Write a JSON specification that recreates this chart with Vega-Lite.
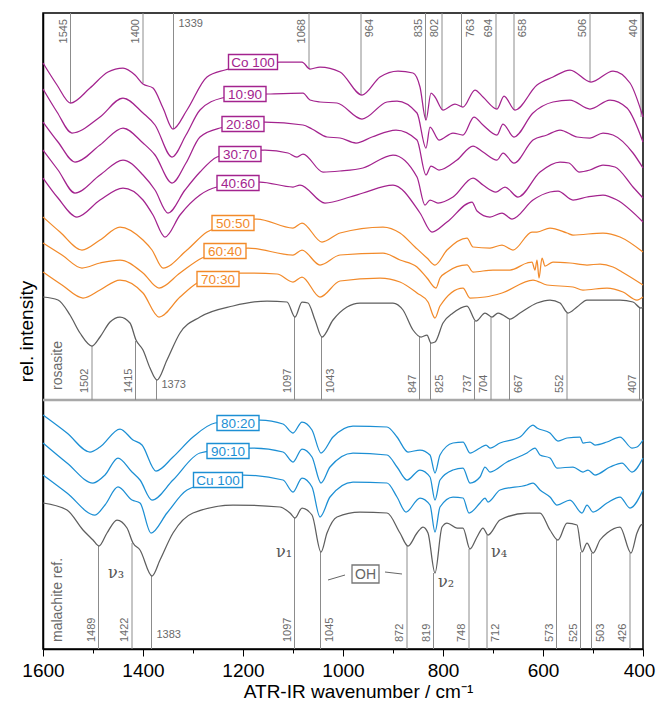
{
"$schema": "https://vega.github.io/schema/vega-lite/v6.json",
"width": 600, "height": 636,
"autosize": {"type": "none"},
"padding": {"left": 43, "top": 13, "right": 14, "bottom": 64},
"background": "white",
"config": {"view": {"stroke": "#000", "strokeWidth": 1.5}, "font": "Liberation Sans"},
"datasets": {
"spectra": [
{"s":"Co 100","w":1600,"y":586},{"s":"Co 100","w":1572,"y":564},{"s":"Co 100","w":1545,"y":546},{"s":"Co 100","w":1506,"y":561},{"s":"Co 100","w":1470,"y":577},{"s":"Co 100","w":1440,"y":581},{"s":"Co 100","w":1416,"y":574},{"s":"Co 100","w":1400,"y":565},{"s":"Co 100","w":1380,"y":561},{"s":"Co 100","w":1360,"y":541},{"s":"Co 100","w":1340,"y":520},{"s":"Co 100","w":1312,"y":539},{"s":"Co 100","w":1272,"y":572},{"s":"Co 100","w":1236,"y":579},{"s":"Co 100","w":1180,"y":584},{"s":"Co 100","w":1126,"y":587},{"s":"Co 100","w":1082,"y":587},{"s":"Co 100","w":1066,"y":580},{"s":"Co 100","w":1046,"y":582},{"s":"Co 100","w":1006,"y":577},{"s":"Co 100","w":962,"y":554},{"s":"Co 100","w":926,"y":572},{"s":"Co 100","w":890,"y":578},{"s":"Co 100","w":860,"y":576},{"s":"Co 100","w":846,"y":562},{"s":"Co 100","w":834,"y":529},{"s":"Co 100","w":824,"y":556},{"s":"Co 100","w":816,"y":552},{"s":"Co 100","w":800,"y":539},{"s":"Co 100","w":776,"y":545},{"s":"Co 100","w":760,"y":542},{"s":"Co 100","w":736,"y":559},{"s":"Co 100","w":720,"y":552},{"s":"Co 100","w":692,"y":540},{"s":"Co 100","w":678,"y":553},{"s":"Co 100","w":656,"y":539},{"s":"Co 100","w":612,"y":564},{"s":"Co 100","w":580,"y":572},{"s":"Co 100","w":546,"y":579},{"s":"Co 100","w":504,"y":567},{"s":"Co 100","w":460,"y":578},{"s":"Co 100","w":426,"y":566},{"s":"Co 100","w":400,"y":532},
{"s":"10:90","w":1600,"y":560},{"s":"10:90","w":1572,"y":537},{"s":"10:90","w":1542,"y":516},{"s":"10:90","w":1486,"y":532},{"s":"10:90","w":1440,"y":551},{"s":"10:90","w":1400,"y":536},{"s":"10:90","w":1376,"y":524},{"s":"10:90","w":1342,"y":492},{"s":"10:90","w":1314,"y":514},{"s":"10:90","w":1286,"y":539},{"s":"10:90","w":1242,"y":551},{"s":"10:90","w":1196,"y":554},{"s":"10:90","w":1150,"y":555},{"s":"10:90","w":1080,"y":556},{"s":"10:90","w":1066,"y":549},{"s":"10:90","w":1046,"y":547},{"s":"10:90","w":1012,"y":546},{"s":"10:90","w":962,"y":530},{"s":"10:90","w":912,"y":547},{"s":"10:90","w":892,"y":548},{"s":"10:90","w":852,"y":536},{"s":"10:90","w":834,"y":501},{"s":"10:90","w":826,"y":522},{"s":"10:90","w":808,"y":509},{"s":"10:90","w":780,"y":516},{"s":"10:90","w":760,"y":514},{"s":"10:90","w":738,"y":532},{"s":"10:90","w":720,"y":524},{"s":"10:90","w":692,"y":514},{"s":"10:90","w":680,"y":525},{"s":"10:90","w":658,"y":512},{"s":"10:90","w":620,"y":536},{"s":"10:90","w":580,"y":547},{"s":"10:90","w":546,"y":549},{"s":"10:90","w":506,"y":540},{"s":"10:90","w":466,"y":549},{"s":"10:90","w":432,"y":541},{"s":"10:90","w":400,"y":507},
{"s":"20:80","w":1600,"y":527},{"s":"20:80","w":1570,"y":507},{"s":"20:80","w":1536,"y":487},{"s":"20:80","w":1486,"y":504},{"s":"20:80","w":1440,"y":521},{"s":"20:80","w":1400,"y":506},{"s":"20:80","w":1376,"y":494},{"s":"20:80","w":1342,"y":466},{"s":"20:80","w":1314,"y":486},{"s":"20:80","w":1286,"y":512},{"s":"20:80","w":1246,"y":521},{"s":"20:80","w":1156,"y":527},{"s":"20:80","w":1080,"y":524},{"s":"20:80","w":1062,"y":520},{"s":"20:80","w":1032,"y":512},{"s":"20:80","w":1006,"y":511},{"s":"20:80","w":974,"y":506},{"s":"20:80","w":942,"y":512},{"s":"20:80","w":894,"y":519},{"s":"20:80","w":852,"y":509},{"s":"20:80","w":834,"y":474},{"s":"20:80","w":824,"y":483},{"s":"20:80","w":808,"y":479},{"s":"20:80","w":772,"y":489},{"s":"20:80","w":740,"y":503},{"s":"20:80","w":720,"y":497},{"s":"20:80","w":692,"y":489},{"s":"20:80","w":680,"y":496},{"s":"20:80","w":658,"y":486},{"s":"20:80","w":620,"y":509},{"s":"20:80","w":592,"y":514},{"s":"20:80","w":566,"y":519},{"s":"20:80","w":532,"y":512},{"s":"20:80","w":506,"y":511},{"s":"20:80","w":480,"y":516},{"s":"20:80","w":460,"y":514},{"s":"20:80","w":420,"y":496},{"s":"20:80","w":400,"y":481},
{"s":"30:70","w":1600,"y":499},{"s":"30:70","w":1570,"y":479},{"s":"30:70","w":1536,"y":456},{"s":"30:70","w":1486,"y":474},{"s":"30:70","w":1440,"y":489},{"s":"30:70","w":1400,"y":474},{"s":"30:70","w":1376,"y":459},{"s":"30:70","w":1350,"y":436},{"s":"30:70","w":1316,"y":459},{"s":"30:70","w":1286,"y":477},{"s":"30:70","w":1252,"y":492},{"s":"30:70","w":1206,"y":497},{"s":"30:70","w":1156,"y":499},{"s":"30:70","w":1110,"y":496},{"s":"30:70","w":1092,"y":492},{"s":"30:70","w":1080,"y":495},{"s":"30:70","w":1040,"y":477},{"s":"30:70","w":1006,"y":478},{"s":"30:70","w":960,"y":481},{"s":"30:70","w":900,"y":494},{"s":"30:70","w":852,"y":472},{"s":"30:70","w":836,"y":444},{"s":"30:70","w":826,"y":449},{"s":"30:70","w":810,"y":446},{"s":"30:70","w":780,"y":452},{"s":"30:70","w":740,"y":471},{"s":"30:70","w":720,"y":464},{"s":"30:70","w":694,"y":457},{"s":"30:70","w":676,"y":462},{"s":"30:70","w":650,"y":452},{"s":"30:70","w":606,"y":477},{"s":"30:70","w":566,"y":487},{"s":"30:70","w":548,"y":486},{"s":"30:70","w":528,"y":477},{"s":"30:70","w":506,"y":479},{"s":"30:70","w":480,"y":484},{"s":"30:70","w":456,"y":482},{"s":"30:70","w":420,"y":462},{"s":"30:70","w":400,"y":451},
{"s":"40:60","w":1600,"y":471},{"s":"40:60","w":1570,"y":451},{"s":"40:60","w":1532,"y":432},{"s":"40:60","w":1486,"y":449},{"s":"40:60","w":1440,"y":461},{"s":"40:60","w":1400,"y":449},{"s":"40:60","w":1380,"y":434},{"s":"40:60","w":1356,"y":412},{"s":"40:60","w":1326,"y":434},{"s":"40:60","w":1286,"y":454},{"s":"40:60","w":1252,"y":462},{"s":"40:60","w":1166,"y":467},{"s":"40:60","w":1100,"y":462},{"s":"40:60","w":1086,"y":464},{"s":"40:60","w":1036,"y":446},{"s":"40:60","w":986,"y":452},{"s":"40:60","w":960,"y":456},{"s":"40:60","w":900,"y":464},{"s":"40:60","w":846,"y":436},{"s":"40:60","w":822,"y":417},{"s":"40:60","w":792,"y":427},{"s":"40:60","w":742,"y":447},{"s":"40:60","w":732,"y":438},{"s":"40:60","w":706,"y":432},{"s":"40:60","w":682,"y":436},{"s":"40:60","w":662,"y":430},{"s":"40:60","w":620,"y":449},{"s":"40:60","w":586,"y":457},{"s":"40:60","w":570,"y":458},{"s":"40:60","w":540,"y":449},{"s":"40:60","w":512,"y":452},{"s":"40:60","w":480,"y":454},{"s":"40:60","w":452,"y":449},{"s":"40:60","w":400,"y":427},
{"s":"50:50","w":1600,"y":432},{"s":"50:50","w":1566,"y":417},{"s":"50:50","w":1522,"y":399},{"s":"50:50","w":1486,"y":409},{"s":"50:50","w":1446,"y":422},{"s":"50:50","w":1400,"y":409},{"s":"50:50","w":1382,"y":399},{"s":"50:50","w":1360,"y":381},{"s":"50:50","w":1312,"y":399},{"s":"50:50","w":1272,"y":417},{"s":"50:50","w":1220,"y":425},{"s":"50:50","w":1172,"y":430},{"s":"50:50","w":1100,"y":421},{"s":"50:50","w":1082,"y":426},{"s":"50:50","w":1042,"y":407},{"s":"50:50","w":1006,"y":416},{"s":"50:50","w":920,"y":422},{"s":"50:50","w":886,"y":416},{"s":"50:50","w":856,"y":402},{"s":"50:50","w":832,"y":391},{"s":"50:50","w":816,"y":384},{"s":"50:50","w":792,"y":399},{"s":"50:50","w":752,"y":411},{"s":"50:50","w":740,"y":402},{"s":"50:50","w":706,"y":401},{"s":"50:50","w":682,"y":404},{"s":"50:50","w":660,"y":399},{"s":"50:50","w":622,"y":417},{"s":"50:50","w":612,"y":417},{"s":"50:50","w":586,"y":421},{"s":"50:50","w":552,"y":416},{"s":"50:50","w":540,"y":414},{"s":"50:50","w":480,"y":416},{"s":"50:50","w":446,"y":412},{"s":"50:50","w":400,"y":397},
{"s":"60:40","w":1600,"y":406},{"s":"60:40","w":1562,"y":394},{"s":"60:40","w":1522,"y":381},{"s":"60:40","w":1486,"y":386},{"s":"60:40","w":1446,"y":389},{"s":"60:40","w":1400,"y":376},{"s":"60:40","w":1368,"y":361},{"s":"60:40","w":1326,"y":376},{"s":"60:40","w":1282,"y":391},{"s":"60:40","w":1236,"y":397},{"s":"60:40","w":1190,"y":401},{"s":"60:40","w":1100,"y":394},{"s":"60:40","w":1082,"y":399},{"s":"60:40","w":1046,"y":384},{"s":"60:40","w":1006,"y":394},{"s":"60:40","w":920,"y":396},{"s":"60:40","w":886,"y":389},{"s":"60:40","w":852,"y":382},{"s":"60:40","w":832,"y":371},{"s":"60:40","w":814,"y":361},{"s":"60:40","w":806,"y":371},{"s":"60:40","w":792,"y":377},{"s":"60:40","w":752,"y":384},{"s":"60:40","w":740,"y":377},{"s":"60:40","w":700,"y":379},{"s":"60:40","w":666,"y":379},{"s":"60:40","w":632,"y":386},{"s":"60:40","w":622,"y":387},{"s":"60:40","w":616,"y":379},{"s":"60:40","w":612,"y":389},{"s":"60:40","w":608,"y":371},{"s":"60:40","w":602,"y":391},{"s":"60:40","w":596,"y":383},{"s":"60:40","w":580,"y":387},{"s":"60:40","w":546,"y":386},{"s":"60:40","w":512,"y":384},{"s":"60:40","w":486,"y":385},{"s":"60:40","w":460,"y":382},{"s":"60:40","w":442,"y":377},{"s":"60:40","w":400,"y":364},
{"s":"70:30","w":1600,"y":377},{"s":"70:30","w":1562,"y":364},{"s":"70:30","w":1520,"y":351},{"s":"70:30","w":1486,"y":359},{"s":"70:30","w":1446,"y":369},{"s":"70:30","w":1400,"y":356},{"s":"70:30","w":1368,"y":332},{"s":"70:30","w":1326,"y":352},{"s":"70:30","w":1292,"y":366},{"s":"70:30","w":1250,"y":373},{"s":"70:30","w":1206,"y":376},{"s":"70:30","w":1132,"y":375},{"s":"70:30","w":1100,"y":367},{"s":"70:30","w":1082,"y":372},{"s":"70:30","w":1046,"y":352},{"s":"70:30","w":1006,"y":368},{"s":"70:30","w":926,"y":371},{"s":"70:30","w":886,"y":367},{"s":"70:30","w":852,"y":356},{"s":"70:30","w":830,"y":347},{"s":"70:30","w":816,"y":331},{"s":"70:30","w":806,"y":343},{"s":"70:30","w":760,"y":361},{"s":"70:30","w":746,"y":351},{"s":"70:30","w":716,"y":352},{"s":"70:30","w":682,"y":356},{"s":"70:30","w":620,"y":369},{"s":"70:30","w":592,"y":364},{"s":"70:30","w":540,"y":362},{"s":"70:30","w":520,"y":359},{"s":"70:30","w":472,"y":361},{"s":"70:30","w":440,"y":357},{"s":"70:30","w":412,"y":349},{"s":"70:30","w":400,"y":352},
{"s":"rosasite","w":1600,"y":352},{"s":"rosasite","w":1570,"y":349},{"s":"rosasite","w":1546,"y":334},{"s":"rosasite","w":1526,"y":316},{"s":"rosasite","w":1502,"y":303},{"s":"rosasite","w":1486,"y":312},{"s":"rosasite","w":1466,"y":327},{"s":"rosasite","w":1446,"y":332},{"s":"rosasite","w":1426,"y":326},{"s":"rosasite","w":1414,"y":309},{"s":"rosasite","w":1400,"y":299},{"s":"rosasite","w":1386,"y":281},{"s":"rosasite","w":1372,"y":269},{"s":"rosasite","w":1352,"y":289},{"s":"rosasite","w":1326,"y":316},{"s":"rosasite","w":1286,"y":332},{"s":"rosasite","w":1220,"y":343},{"s":"rosasite","w":1152,"y":348},{"s":"rosasite","w":1112,"y":347},{"s":"rosasite","w":1096,"y":332},{"s":"rosasite","w":1082,"y":347},{"s":"rosasite","w":1070,"y":346},{"s":"rosasite","w":1056,"y":329},{"s":"rosasite","w":1042,"y":312},{"s":"rosasite","w":1020,"y":329},{"s":"rosasite","w":992,"y":342},{"s":"rosasite","w":966,"y":346},{"s":"rosasite","w":900,"y":346},{"s":"rosasite","w":880,"y":339},{"s":"rosasite","w":860,"y":319},{"s":"rosasite","w":844,"y":312},{"s":"rosasite","w":832,"y":314},{"s":"rosasite","w":824,"y":306},{"s":"rosasite","w":816,"y":307},{"s":"rosasite","w":800,"y":326},{"s":"rosasite","w":780,"y":336},{"s":"rosasite","w":752,"y":343},{"s":"rosasite","w":734,"y":328},{"s":"rosasite","w":716,"y":336},{"s":"rosasite","w":702,"y":332},{"s":"rosasite","w":690,"y":336},{"s":"rosasite","w":680,"y":334},{"s":"rosasite","w":666,"y":330},{"s":"rosasite","w":646,"y":336},{"s":"rosasite","w":612,"y":346},{"s":"rosasite","w":586,"y":349},{"s":"rosasite","w":566,"y":346},{"s":"rosasite","w":550,"y":336},{"s":"rosasite","w":532,"y":342},{"s":"rosasite","w":512,"y":349},{"s":"rosasite","w":446,"y":349},{"s":"rosasite","w":420,"y":347},{"s":"rosasite","w":404,"y":341},{"s":"rosasite","w":400,"y":342},
{"s":"80:20","w":1600,"y":234},{"s":"80:20","w":1552,"y":216},{"s":"80:20","w":1506,"y":197},{"s":"80:20","w":1486,"y":202},{"s":"80:20","w":1446,"y":220},{"s":"80:20","w":1420,"y":209},{"s":"80:20","w":1402,"y":204},{"s":"80:20","w":1374,"y":178},{"s":"80:20","w":1340,"y":192},{"s":"80:20","w":1300,"y":212},{"s":"80:20","w":1256,"y":226},{"s":"80:20","w":1210,"y":228},{"s":"80:20","w":1166,"y":229},{"s":"80:20","w":1120,"y":225},{"s":"80:20","w":1100,"y":216},{"s":"80:20","w":1082,"y":227},{"s":"80:20","w":1062,"y":219},{"s":"80:20","w":1044,"y":196},{"s":"80:20","w":1020,"y":212},{"s":"80:20","w":980,"y":223},{"s":"80:20","w":912,"y":222},{"s":"80:20","w":892,"y":212},{"s":"80:20","w":870,"y":197},{"s":"80:20","w":846,"y":199},{"s":"80:20","w":826,"y":194},{"s":"80:20","w":816,"y":176},{"s":"80:20","w":806,"y":194},{"s":"80:20","w":780,"y":206},{"s":"80:20","w":760,"y":207},{"s":"80:20","w":746,"y":196},{"s":"80:20","w":726,"y":201},{"s":"80:20","w":714,"y":204},{"s":"80:20","w":706,"y":201},{"s":"80:20","w":686,"y":206},{"s":"80:20","w":646,"y":212},{"s":"80:20","w":620,"y":224},{"s":"80:20","w":612,"y":221},{"s":"80:20","w":586,"y":216},{"s":"80:20","w":570,"y":208},{"s":"80:20","w":552,"y":211},{"s":"80:20","w":526,"y":212},{"s":"80:20","w":520,"y":206},{"s":"80:20","w":506,"y":207},{"s":"80:20","w":496,"y":204},{"s":"80:20","w":472,"y":207},{"s":"80:20","w":446,"y":212},{"s":"80:20","w":422,"y":201},{"s":"80:20","w":412,"y":202},{"s":"80:20","w":400,"y":209},
{"s":"90:10","w":1600,"y":206},{"s":"90:10","w":1552,"y":186},{"s":"90:10","w":1500,"y":166},{"s":"90:10","w":1476,"y":174},{"s":"90:10","w":1450,"y":191},{"s":"90:10","w":1422,"y":177},{"s":"90:10","w":1406,"y":169},{"s":"90:10","w":1382,"y":149},{"s":"90:10","w":1340,"y":169},{"s":"90:10","w":1286,"y":196},{"s":"90:10","w":1230,"y":200},{"s":"90:10","w":1180,"y":201},{"s":"90:10","w":1120,"y":197},{"s":"90:10","w":1100,"y":187},{"s":"90:10","w":1082,"y":200},{"s":"90:10","w":1062,"y":192},{"s":"90:10","w":1044,"y":166},{"s":"90:10","w":1026,"y":182},{"s":"90:10","w":980,"y":196},{"s":"90:10","w":912,"y":194},{"s":"90:10","w":892,"y":182},{"s":"90:10","w":872,"y":169},{"s":"90:10","w":846,"y":179},{"s":"90:10","w":826,"y":172},{"s":"90:10","w":816,"y":149},{"s":"90:10","w":806,"y":169},{"s":"90:10","w":780,"y":179},{"s":"90:10","w":760,"y":181},{"s":"90:10","w":746,"y":166},{"s":"90:10","w":726,"y":172},{"s":"90:10","w":716,"y":182},{"s":"90:10","w":706,"y":177},{"s":"90:10","w":672,"y":187},{"s":"90:10","w":632,"y":196},{"s":"90:10","w":616,"y":201},{"s":"90:10","w":606,"y":194},{"s":"90:10","w":586,"y":191},{"s":"90:10","w":572,"y":181},{"s":"90:10","w":540,"y":182},{"s":"90:10","w":520,"y":177},{"s":"90:10","w":510,"y":179},{"s":"90:10","w":496,"y":174},{"s":"90:10","w":466,"y":182},{"s":"90:10","w":442,"y":186},{"s":"90:10","w":422,"y":177},{"s":"90:10","w":400,"y":191},
{"s":"Cu 100","w":1600,"y":174},{"s":"Cu 100","w":1552,"y":156},{"s":"Cu 100","w":1496,"y":134},{"s":"Cu 100","w":1476,"y":144},{"s":"Cu 100","w":1450,"y":162},{"s":"Cu 100","w":1422,"y":149},{"s":"Cu 100","w":1406,"y":146},{"s":"Cu 100","w":1384,"y":116},{"s":"Cu 100","w":1352,"y":136},{"s":"Cu 100","w":1312,"y":159},{"s":"Cu 100","w":1250,"y":168},{"s":"Cu 100","w":1200,"y":174},{"s":"Cu 100","w":1120,"y":169},{"s":"Cu 100","w":1100,"y":157},{"s":"Cu 100","w":1082,"y":171},{"s":"Cu 100","w":1062,"y":162},{"s":"Cu 100","w":1046,"y":132},{"s":"Cu 100","w":1026,"y":152},{"s":"Cu 100","w":980,"y":167},{"s":"Cu 100","w":912,"y":166},{"s":"Cu 100","w":892,"y":152},{"s":"Cu 100","w":874,"y":137},{"s":"Cu 100","w":846,"y":151},{"s":"Cu 100","w":826,"y":144},{"s":"Cu 100","w":816,"y":117},{"s":"Cu 100","w":806,"y":142},{"s":"Cu 100","w":780,"y":152},{"s":"Cu 100","w":760,"y":151},{"s":"Cu 100","w":748,"y":136},{"s":"Cu 100","w":726,"y":146},{"s":"Cu 100","w":716,"y":151},{"s":"Cu 100","w":710,"y":147},{"s":"Cu 100","w":686,"y":159},{"s":"Cu 100","w":632,"y":164},{"s":"Cu 100","w":620,"y":166},{"s":"Cu 100","w":606,"y":159},{"s":"Cu 100","w":586,"y":152},{"s":"Cu 100","w":572,"y":144},{"s":"Cu 100","w":546,"y":149},{"s":"Cu 100","w":522,"y":136},{"s":"Cu 100","w":512,"y":144},{"s":"Cu 100","w":500,"y":137},{"s":"Cu 100","w":472,"y":146},{"s":"Cu 100","w":446,"y":152},{"s":"Cu 100","w":426,"y":141},{"s":"Cu 100","w":400,"y":159},
{"s":"malachite ref.","w":1600,"y":146},{"s":"malachite ref.","w":1552,"y":139},{"s":"malachite ref.","w":1520,"y":119},{"s":"malachite ref.","w":1500,"y":109},{"s":"malachite ref.","w":1488,"y":103},{"s":"malachite ref.","w":1472,"y":116},{"s":"malachite ref.","w":1452,"y":129},{"s":"malachite ref.","w":1432,"y":121},{"s":"malachite ref.","w":1420,"y":106},{"s":"malachite ref.","w":1406,"y":99},{"s":"malachite ref.","w":1382,"y":73},{"s":"malachite ref.","w":1366,"y":89},{"s":"malachite ref.","w":1340,"y":116},{"s":"malachite ref.","w":1300,"y":136},{"s":"malachite ref.","w":1220,"y":144},{"s":"malachite ref.","w":1126,"y":142},{"s":"malachite ref.","w":1106,"y":136},{"s":"malachite ref.","w":1096,"y":131},{"s":"malachite ref.","w":1082,"y":141},{"s":"malachite ref.","w":1062,"y":134},{"s":"malachite ref.","w":1044,"y":97},{"s":"malachite ref.","w":1032,"y":116},{"s":"malachite ref.","w":1012,"y":132},{"s":"malachite ref.","w":966,"y":137},{"s":"malachite ref.","w":912,"y":136},{"s":"malachite ref.","w":886,"y":116},{"s":"malachite ref.","w":870,"y":103},{"s":"malachite ref.","w":852,"y":116},{"s":"malachite ref.","w":840,"y":122},{"s":"malachite ref.","w":830,"y":116},{"s":"malachite ref.","w":816,"y":76},{"s":"malachite ref.","w":802,"y":122},{"s":"malachite ref.","w":792,"y":126},{"s":"malachite ref.","w":772,"y":121},{"s":"malachite ref.","w":760,"y":121},{"s":"malachite ref.","w":746,"y":100},{"s":"malachite ref.","w":732,"y":112},{"s":"malachite ref.","w":720,"y":121},{"s":"malachite ref.","w":710,"y":114},{"s":"malachite ref.","w":686,"y":129},{"s":"malachite ref.","w":632,"y":136},{"s":"malachite ref.","w":606,"y":136},{"s":"malachite ref.","w":586,"y":119},{"s":"malachite ref.","w":570,"y":109},{"s":"malachite ref.","w":552,"y":126},{"s":"malachite ref.","w":532,"y":124},{"s":"malachite ref.","w":522,"y":97},{"s":"malachite ref.","w":512,"y":106},{"s":"malachite ref.","w":500,"y":96},{"s":"malachite ref.","w":486,"y":109},{"s":"malachite ref.","w":472,"y":116},{"s":"malachite ref.","w":446,"y":122},{"s":"malachite ref.","w":424,"y":96},{"s":"malachite ref.","w":412,"y":116},{"s":"malachite ref.","w":404,"y":124},{"s":"malachite ref.","w":400,"y":125}
],
"labels": [
{"s":"Co 100","w":1180,"y":587},{"s":"10:90","w":1196,"y":555},{"s":"20:80","w":1200,"y":525},{"s":"30:70","w":1206,"y":495},{"s":"40:60","w":1210,"y":466},{"s":"50:50","w":1220,"y":426},{"s":"60:40","w":1236,"y":398},{"s":"70:30","w":1250,"y":370},{"s":"80:20","w":1210,"y":226},{"s":"90:10","w":1230,"y":198},{"s":"Cu 100","w":1250,"y":169}
],
"peaks": [
{"g":"top","w":1545,"y":546,"side":"l"},{"g":"top","w":1400,"y":566,"side":"l"},{"g":"top","w":1339,"y":520,"side":"h"},{"g":"top","w":1068,"y":580,"side":"l"},{"g":"top","w":964,"y":554,"side":"r"},{"g":"top","w":835,"y":529,"side":"l"},{"g":"top","w":802,"y":539,"side":"l"},{"g":"top","w":763,"y":542,"side":"r"},{"g":"top","w":694,"y":540,"side":"l"},{"g":"top","w":658,"y":539,"side":"r"},{"g":"top","w":506,"y":567,"side":"l"},{"g":"top","w":404,"y":532,"side":"l"},
{"g":"ros","w":1502,"y":303,"side":"l"},{"g":"ros","w":1415,"y":308,"side":"l"},{"g":"ros","w":1373,"y":269,"side":"h"},{"g":"ros","w":1097,"y":332,"side":"l"},{"g":"ros","w":1043,"y":312,"side":"r"},{"g":"ros","w":847,"y":312,"side":"l"},{"g":"ros","w":825,"y":306,"side":"r"},{"g":"ros","w":737,"y":328,"side":"l"},{"g":"ros","w":704,"y":332,"side":"l"},{"g":"ros","w":667,"y":330,"side":"r"},{"g":"ros","w":552,"y":336,"side":"l"},{"g":"ros","w":407,"y":341,"side":"l"},
{"g":"mal","w":1489,"y":103,"side":"l"},{"g":"mal","w":1422,"y":106,"side":"l"},{"g":"mal","w":1383,"y":73,"side":"h"},{"g":"mal","w":1097,"y":131,"side":"l"},{"g":"mal","w":1045,"y":97,"side":"r"},{"g":"mal","w":872,"y":103,"side":"l"},{"g":"mal","w":819,"y":76,"side":"l"},{"g":"mal","w":748,"y":100,"side":"l"},{"g":"mal","w":712,"y":114,"side":"r"},{"g":"mal","w":573,"y":109,"side":"l"},{"g":"mal","w":525,"y":97,"side":"l"},{"g":"mal","w":503,"y":96,"side":"r"},{"g":"mal","w":426,"y":96,"side":"l"}
],
"notes": [
{"t":"ν₃","w":1454,"y":76},{"t":"ν₁","w":1118,"y":97},{"t":"ν₂","w":794,"y":67},{"t":"ν₄","w":688,"y":97}
],
"names": [
{"t":"rosasite","w":1570,"y":259},{"t":"malachite ref.","w":1570,"y":7}
],
"oh": [{"t":"OH","w":955,"y":75}],
"ohlines": [{"w":1030,"y":69,"w2":996,"y2":74},{"w":916,"y":77,"w2":882,"y2":75}]
},
"layer": [
{"data": {"values": [{"y": 249}]}, "mark": {"type": "rule", "color": "#a8a8a8", "strokeWidth": 2.5}, "encoding": {"y": {"field": "y", "type": "quantitative"}}},
{"data": {"name": "peaks"}, "transform": [{"filter": "datum.g == 'top'"}], "mark": {"type": "rule", "color": "#8c8c8c", "strokeWidth": 1}, "encoding": {"x": {"field": "w", "type": "quantitative"}, "y": {"field": "y", "type": "quantitative"}, "y2": {"datum": 636}}},
{"data": {"name": "peaks"}, "transform": [{"filter": "datum.g == 'ros'"}], "mark": {"type": "rule", "color": "#8c8c8c", "strokeWidth": 1}, "encoding": {"x": {"field": "w", "type": "quantitative"}, "y": {"field": "y", "type": "quantitative"}, "y2": {"datum": 249}}},
{"data": {"name": "peaks"}, "transform": [{"filter": "datum.g == 'mal'"}], "mark": {"type": "rule", "color": "#8c8c8c", "strokeWidth": 1}, "encoding": {"x": {"field": "w", "type": "quantitative"}, "y": {"field": "y", "type": "quantitative"}, "y2": {"datum": 0}}},
{"data": {"name": "spectra"}, "mark": {"type": "line", "interpolate": "monotone", "strokeWidth": 1.25},
 "encoding": {
  "x": {"field": "w", "type": "quantitative", "scale": {"domain": [400, 1600], "reverse": true, "nice": false, "zero": false},
   "axis": {"title": "ATR-IR wavenumber / cm⁻¹", "values": [1600,1550,1500,1450,1400,1350,1300,1250,1200,1150,1100,1050,1000,950,900,850,800,750,700,650,600,550,500,450,400],
    "labelExpr": "datum.value % 200 === 0 ? datum.label : ''", "format": "d",
    "tickSize": {"condition": {"test": "datum.value % 200 === 0", "value": 7}, "value": 4},
    "labelOffset": {"condition": {"test": "datum.value === 400", "value": -4}, "value": 0},
    "tickColor": "#000", "tickWidth": 1, "domainColor": "#000", "domainWidth": 1.5, "grid": false,
    "labelFont": "Liberation Sans", "labelFontSize": 19, "labelColor": "#000", "labelPadding": 5, "labelFlush": false, "labelOverlap": false,
    "titleFont": "Liberation Sans", "titleFontSize": 19, "titleFontWeight": "normal", "titleColor": "#000", "titlePadding": 2, "titleX": 315}},
  "y": {"field": "y", "type": "quantitative", "scale": {"domain": [0, 636], "nice": false, "zero": false},
   "axis": {"title": "rel. intensity", "labels": false, "ticks": false, "grid": false, "domainColor": "#000", "domainWidth": 1.5,
    "titleFont": "Liberation Sans", "titleFontSize": 19, "titleFontWeight": "normal", "titleColor": "#000", "titlePadding": 7}},
  "color": {"field": "s", "type": "nominal", "legend": null,
   "scale": {"domain": ["Co 100","10:90","20:80","30:70","40:60","50:50","60:40","70:30","rosasite","80:20","90:10","Cu 100","malachite ref."],
    "range": ["#a3238e","#a3238e","#a3238e","#a3238e","#a3238e","#f28a2a","#f28a2a","#f28a2a","#5e5e5e","#1c8fd4","#1c8fd4","#1c8fd4","#5e5e5e"]}}
 }},
{"data": {"name": "labels"}, "transform": [{"filter": "length(datum.s) <= 5"}],
 "mark": {"type": "point", "shape": "M-1,-0.357L1,-0.357L1,0.357L-1,0.357Z", "size": 1764, "fill": "white", "fillOpacity": 1, "strokeWidth": 1.4, "opacity": 1},
 "encoding": {"x": {"field": "w", "type": "quantitative"}, "y": {"field": "y", "type": "quantitative"},
  "stroke": {"field": "s", "type": "nominal", "legend": null, "scale": {"domain": ["Co 100","10:90","20:80","30:70","40:60","50:50","60:40","70:30","rosasite","80:20","90:10","Cu 100","malachite ref."],
    "range": ["#a3238e","#a3238e","#a3238e","#a3238e","#a3238e","#f28a2a","#f28a2a","#f28a2a","#5e5e5e","#1c8fd4","#1c8fd4","#1c8fd4","#5e5e5e"]}}}},
{"data": {"name": "labels"}, "transform": [{"filter": "length(datum.s) > 5"}],
 "mark": {"type": "point", "shape": "M-1,-0.306L1,-0.306L1,0.306L-1,0.306Z", "size": 2401, "fill": "white", "fillOpacity": 1, "strokeWidth": 1.4, "opacity": 1},
 "encoding": {"x": {"field": "w", "type": "quantitative"}, "y": {"field": "y", "type": "quantitative"},
  "stroke": {"field": "s", "type": "nominal", "legend": null}}},
{"data": {"name": "labels"}, "mark": {"type": "text", "font": "Liberation Sans", "fontSize": 13.5, "align": "center", "baseline": "middle", "dy": 0.5},
 "encoding": {"x": {"field": "w", "type": "quantitative"}, "y": {"field": "y", "type": "quantitative"}, "text": {"field": "s"}, "color": {"field": "s", "type": "nominal", "legend": null}}},
{"data": {"name": "peaks"}, "transform": [{"filter": "datum.g == 'top' && datum.side == 'l'"}], "mark": {"type": "text", "font": "Liberation Sans", "fontSize": 11, "color": "#6a6a6a", "angle": 270, "align": "right", "baseline": "middle", "dy": -7},
 "encoding": {"x": {"field": "w", "type": "quantitative"}, "y": {"datum": 630}, "text": {"field": "w"}}},
{"data": {"name": "peaks"}, "transform": [{"filter": "datum.g == 'top' && datum.side == 'r'"}], "mark": {"type": "text", "font": "Liberation Sans", "fontSize": 11, "color": "#6a6a6a", "angle": 270, "align": "right", "baseline": "middle", "dy": 9},
 "encoding": {"x": {"field": "w", "type": "quantitative"}, "y": {"datum": 630}, "text": {"field": "w"}}},
{"data": {"name": "peaks"}, "transform": [{"filter": "datum.g == 'top' && datum.side == 'h'"}], "mark": {"type": "text", "font": "Liberation Sans", "fontSize": 11, "color": "#6a6a6a", "align": "left", "baseline": "middle", "dx": 5},
 "encoding": {"x": {"field": "w", "type": "quantitative"}, "y": {"datum": 625}, "text": {"field": "w"}}},
{"data": {"name": "peaks"}, "transform": [{"filter": "datum.g == 'ros' && datum.side == 'l'"}], "mark": {"type": "text", "font": "Liberation Sans", "fontSize": 11, "color": "#6a6a6a", "angle": 270, "align": "left", "baseline": "middle", "dy": -7},
 "encoding": {"x": {"field": "w", "type": "quantitative"}, "y": {"datum": 256}, "text": {"field": "w"}}},
{"data": {"name": "peaks"}, "transform": [{"filter": "datum.g == 'ros' && datum.side == 'r'"}], "mark": {"type": "text", "font": "Liberation Sans", "fontSize": 11, "color": "#6a6a6a", "angle": 270, "align": "left", "baseline": "middle", "dy": 9},
 "encoding": {"x": {"field": "w", "type": "quantitative"}, "y": {"datum": 256}, "text": {"field": "w"}}},
{"data": {"name": "peaks"}, "transform": [{"filter": "datum.g == 'ros' && datum.side == 'h'"}], "mark": {"type": "text", "font": "Liberation Sans", "fontSize": 11, "color": "#6a6a6a", "align": "left", "baseline": "middle", "dx": 5},
 "encoding": {"x": {"field": "w", "type": "quantitative"}, "y": {"datum": 264}, "text": {"field": "w"}}},
{"data": {"name": "peaks"}, "transform": [{"filter": "datum.g == 'mal' && datum.side == 'l'"}], "mark": {"type": "text", "font": "Liberation Sans", "fontSize": 11, "color": "#6a6a6a", "angle": 270, "align": "left", "baseline": "middle", "dy": -7},
 "encoding": {"x": {"field": "w", "type": "quantitative"}, "y": {"datum": 7}, "text": {"field": "w"}}},
{"data": {"name": "peaks"}, "transform": [{"filter": "datum.g == 'mal' && datum.side == 'r'"}], "mark": {"type": "text", "font": "Liberation Sans", "fontSize": 11, "color": "#6a6a6a", "angle": 270, "align": "left", "baseline": "middle", "dy": 9},
 "encoding": {"x": {"field": "w", "type": "quantitative"}, "y": {"datum": 7}, "text": {"field": "w"}}},
{"data": {"name": "peaks"}, "transform": [{"filter": "datum.g == 'mal' && datum.side == 'h'"}], "mark": {"type": "text", "font": "Liberation Sans", "fontSize": 11, "color": "#6a6a6a", "align": "left", "baseline": "middle", "dx": 5},
 "encoding": {"x": {"field": "w", "type": "quantitative"}, "y": {"datum": 14}, "text": {"field": "w"}}},
{"data": {"name": "names"}, "mark": {"type": "text", "font": "Liberation Sans", "fontSize": 14, "color": "#6a6a6a", "angle": 270, "align": "left", "baseline": "middle"},
 "encoding": {"x": {"field": "w", "type": "quantitative"}, "y": {"field": "y", "type": "quantitative"}, "text": {"field": "t"}}},
{"data": {"name": "notes"}, "mark": {"type": "text", "font": "DejaVu Serif", "fontSize": 16, "color": "#555555", "align": "center", "baseline": "middle"},
 "encoding": {"x": {"field": "w", "type": "quantitative"}, "y": {"field": "y", "type": "quantitative"}, "text": {"field": "t"}}},
{"data": {"name": "ohlines"}, "mark": {"type": "rule", "color": "#666666", "strokeWidth": 1},
 "encoding": {"x": {"field": "w", "type": "quantitative"}, "x2": {"field": "w2"}, "y": {"field": "y", "type": "quantitative"}, "y2": {"field": "y2"}}},
{"data": {"name": "oh"}, "mark": {"type": "point", "shape": "M-1,-0.667L1,-0.667L1,0.667L-1,0.667Z", "size": 729, "fill": "white", "fillOpacity": 1, "stroke": "#777777", "strokeWidth": 1.3, "opacity": 1},
 "encoding": {"x": {"field": "w", "type": "quantitative"}, "y": {"field": "y", "type": "quantitative"}}},
{"data": {"name": "oh"}, "mark": {"type": "text", "font": "Liberation Sans", "fontSize": 14, "color": "#666666", "align": "center", "baseline": "middle", "dy": 0.5},
 "encoding": {"x": {"field": "w", "type": "quantitative"}, "y": {"field": "y", "type": "quantitative"}, "text": {"field": "t"}}}
]
}
